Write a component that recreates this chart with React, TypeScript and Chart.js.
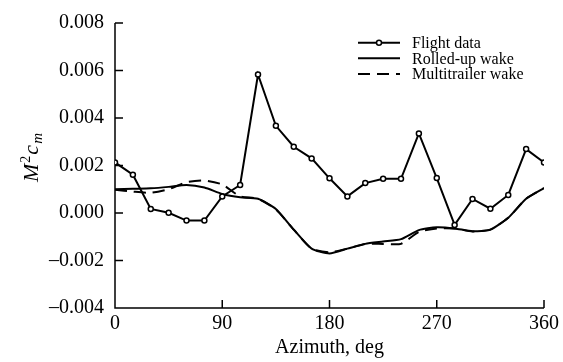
import React, { useEffect, useRef } from 'react';
import { Chart, registerables } from 'chart.js';

Chart.register(...registerables);

const azimuth = [0, 15, 30, 45, 60, 75, 90, 105, 120, 135, 150, 165, 180, 195, 210, 225, 240, 255, 270, 285, 300, 315, 330, 345, 360];
const flightData = [0.00213, 0.00161, 0.00017, 0.00001, -0.00032, -0.00032, 0.0007, 0.00118, 0.00583, 0.00367, 0.00279, 0.0023, 0.00146, 0.0007, 0.00126, 0.00144, 0.00144, 0.00335, 0.00147, -0.0005, 0.00059, 0.00018, 0.00076, 0.00269, 0.00213];
const rolledUpWake = [0.001, 0.00102, 0.00104, 0.0011, 0.00118, 0.00107, 0.0008, 0.00066, 0.0006, 0.00017, -0.0007, -0.0015, -0.0017, -0.0015, -0.0013, -0.0012, -0.0011, -0.00072, -0.0006, -0.00065, -0.00077, -0.0007, -0.0002, 0.0006, 0.00105];
const multitrailerWake = [0.00098, 0.0009, 0.00085, 0.001, 0.0013, 0.00137, 0.0012, 0.0007, 0.0006, 0.00015, -0.0007, -0.0015, -0.00165, -0.0015, -0.0013, -0.0013, -0.0013, -0.0008, -0.00065, -0.00065, -0.00078, -0.0007, -0.0002, 0.0006, 0.00105];
const legendLabels = ['Flight data', 'Rolled-up wake', 'Multitrailer wake'];
const xTitle = 'Azimuth, deg';

const FONT = 'Liberation Serif';

const pts = (ys: number[]) => azimuth.map((x, i) => ({ x, y: ys[i] }));

const decorPlugin = {
  id: 'decor',
  beforeDatasetsDraw(chart: any) {
    const ctx = chart.ctx;
    const { left, right, top, bottom } = chart.chartArea;
    const xs = chart.scales.x;
    const ys = chart.scales.y;
    ctx.save();
    ctx.strokeStyle = '#000';
    ctx.lineWidth = 1.5;
    ctx.beginPath();
    ctx.moveTo(left, top);
    ctx.lineTo(left, bottom);
    ctx.lineTo(right, bottom);
    ys.ticks.forEach((t: any) => {
      const y = ys.getPixelForValue(t.value);
      ctx.moveTo(left, y);
      ctx.lineTo(left + 8, y);
    });
    xs.ticks.forEach((t: any) => {
      const x = xs.getPixelForValue(t.value);
      ctx.moveTo(x, bottom);
      ctx.lineTo(x, bottom - 8);
    });
    ctx.stroke();
    ctx.restore();
  },
  afterDraw(chart: any) {
    const ctx = chart.ctx;
    const { left, right } = chart.chartArea;
    ctx.save();
    ctx.fillStyle = '#000';
    ctx.font = `20px "${FONT}"`;
    ctx.textAlign = 'center';
    ctx.textBaseline = 'middle';
    ctx.fillText(xTitle, (left + right) / 2, 348);
    ctx.translate(31, 157);
    ctx.rotate(-Math.PI / 2);
    const big = `italic 22px "${FONT}"`;
    const small = `14px "${FONT}"`;
    const smallIt = `italic 15px "${FONT}"`;
    const parts = [
      { t: 'M', f: big, dy: 0 },
      { t: '2', f: small, dy: -8 },
      { t: 'c', f: big, dy: 0 },
      { t: 'm', f: smallIt, dy: 4 },
    ];
    let total = 0;
    const widths = parts.map((p) => {
      ctx.font = p.f;
      const w = ctx.measureText(p.t).width + 1;
      total += w;
      return w;
    });
    let cx = -total / 2;
    ctx.textAlign = 'left';
    ctx.textBaseline = 'alphabetic';
    parts.forEach((p, i) => {
      ctx.font = p.f;
      ctx.fillText(p.t, cx, 7 + p.dy);
      cx += widths[i];
    });
    ctx.restore();

    ctx.save();
    ctx.strokeStyle = '#000';
    ctx.fillStyle = '#000';
    ctx.lineWidth = 2;
    const rows = [42.7, 58.3, 74];
    const x0 = 358;
    const x1 = 400;
    ctx.font = `16px "${FONT}"`;
    ctx.textAlign = 'left';
    ctx.textBaseline = 'middle';
    rows.forEach((y, i) => {
      ctx.beginPath();
      ctx.setLineDash(i === 2 ? [12, 7] : []);
      ctx.moveTo(x0, y);
      ctx.lineTo(x1, y);
      ctx.stroke();
      ctx.setLineDash([]);
      if (i === 0) {
        ctx.beginPath();
        ctx.lineWidth = 1.5;
        ctx.fillStyle = '#fff';
        ctx.arc((x0 + x1) / 2, y, 2.5, 0, Math.PI * 2);
        ctx.fill();
        ctx.stroke();
        ctx.lineWidth = 2;
        ctx.fillStyle = '#000';
      }
      ctx.fillText(legendLabels[i], 412, y + 1);
    });
    ctx.restore();
  },
};

export default function App() {
  const ref = useRef<HTMLCanvasElement | null>(null);
  useEffect(() => {
    if (!ref.current) return;
    const chart = new Chart(ref.current, {
      type: 'line',
      data: {
        datasets: [
          {
            label: legendLabels[0],
            data: pts(flightData),
            borderColor: '#000',
            borderWidth: 2,
            pointRadius: 2.5,
            pointBorderWidth: 1.5,
            pointBackgroundColor: '#fff',
            pointBorderColor: '#000',
            tension: 0,
            order: 0,
          },
          {
            label: legendLabels[1],
            data: pts(rolledUpWake),
            borderColor: '#000',
            borderWidth: 2,
            pointRadius: 0,
            tension: 0.2,
            order: 1,
          },
          {
            label: legendLabels[2],
            data: pts(multitrailerWake),
            borderColor: '#000',
            borderWidth: 2,
            borderDash: [12, 7],
            pointRadius: 0,
            tension: 0.2,
            order: 2,
          },
        ],
      },
      options: {
        animation: false,
        responsive: false,
        devicePixelRatio: 1,
        layout: { padding: { top: 23, right: 16, left: 0, bottom: 0 } },
        plugins: { legend: { display: false }, tooltip: { enabled: false } },
        scales: {
          x: {
            type: 'linear',
            min: 0,
            max: 360,
            ticks: { stepSize: 90, padding: 4, color: '#000', font: { family: FONT, size: 20 }, maxRotation: 0 },
            grid: { display: false, drawTicks: false },
            border: { display: false },
            afterFit: (s: any) => { s.height = 54; },
          },
          y: {
            type: 'linear',
            min: -0.004,
            max: 0.008,
            ticks: {
              stepSize: 0.002,
              padding: 11,
              color: '#000',
              font: { family: FONT, size: 20 },
              callback: (v: any) => (v < -1e-9 ? '\u2013' : '') + Math.abs(Number(v)).toFixed(3),
            },
            grid: { display: false, drawTicks: false },
            border: { display: false },
            afterFit: (s: any) => { s.width = 115; },
          },
        },
      },
      plugins: [decorPlugin],
    });
    return () => chart.destroy();
  }, []);
  return (
    <div style={{ position: 'absolute', left: 0, top: 0, width: 563, height: 362, background: '#fff' }}>
      <canvas ref={ref} width={563} height={362} />
    </div>
  );
}
